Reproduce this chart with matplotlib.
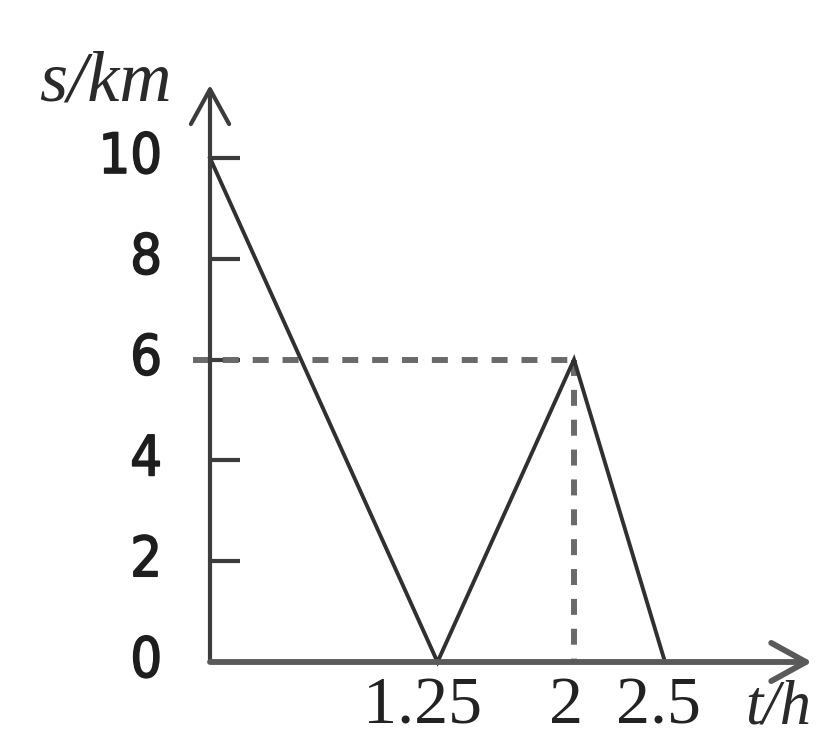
import matplotlib
matplotlib.use("Agg")
import matplotlib.pyplot as plt
import matplotlib.patheffects as pe

# data
t_points = [0, 1.25, 2, 2.5]
s_points = [10, 0, 6, 0]
y_ticks = [0, 2, 4, 6, 8, 10]
x_ticks = [1.25, 2, 2.5]
x_tick_labels = ["1.25", "2", "2.5"]
peak_t = 2
peak_s = 6

plt.rcParams['lines.scale_dashes'] = False

fig = plt.figure(figsize=(8.26, 7.39), dpi=100)
ax = fig.add_axes([0, 0, 1, 1])
# pixel mapping: t=0 -> x 210, 182 px per hour; s=0 -> y 662, 50.4 px per km
px_t = 182.0
px_s = 50.4
ax.set_xlim(-210 / px_t, (826 - 210) / px_t)
ax.set_ylim(-(739 - 662) / px_s, 662 / px_s)
ax.axis('off')

axis_col = '#3c3c3c'

# axes with open arrow heads
ax.annotate('', xy=(0, (662 - 85) / px_s), xytext=(0, 0),
            arrowprops=dict(arrowstyle='->,head_length=1.0,head_width=0.55',
                            mutation_scale=25, lw=3, color=axis_col,
                            shrinkA=0, shrinkB=0))
ax.annotate('', xy=((812 - 210) / px_t, 0), xytext=(0, 0),
            arrowprops=dict(arrowstyle='->,head_length=1.0,head_width=0.55',
                            mutation_scale=25, lw=4.2, color='#5a5a5a',
                            shrinkA=0, shrinkB=0))

# y ticks pointing inward
for v in y_ticks:
    ax.plot([0, 30 / px_t], [v, v], color=axis_col, lw=3, solid_capstyle='butt')
    ax.text(-48 / px_t, v, str(v), ha='right', va='center', fontsize=40,
            family='DejaVu Sans', fontstretch='condensed', color='#1e1e1e',
            path_effects=[pe.withStroke(linewidth=1.2, foreground='#1e1e1e')])

# x tick labels (kept just inside the bottom edge)
shifts = [-15, -8, -7]
base_y = -(723 - 662) / px_s
for v, lab, sh in zip(x_ticks, x_tick_labels, shifts):
    ax.text(v + sh / px_t, base_y, lab, ha='center', va='baseline',
            fontsize=49, family='Liberation Serif', color='#222222')

# axis names
ax.text(-38 / px_t, (662 - 100) / px_s, 's/km', ha='right', va='baseline',
        fontsize=52, family='Liberation Serif', style='italic', color='#2a2a2a')
ax.text((745 - 210) / px_t, base_y, 't/h', ha='left', va='baseline',
        fontsize=45, family='Liberation Serif', style='italic', color='#2a2a2a')

# dashed guide lines to the peak
ax.plot([-17 / px_t, peak_t], [peak_s, peak_s], color='#6a6a6a', lw=4.3,
        dashes=(11.5, 10), solid_capstyle='butt')
ax.plot([peak_t, peak_t], [peak_s, 0], color='#6a6a6a', lw=4.3,
        dashes=(11.5, 10))

# distance-time polyline
ax.plot(t_points, s_points, color='#303030', lw=2.8, solid_joinstyle='miter')

fig.savefig('out.png', dpi=100)
